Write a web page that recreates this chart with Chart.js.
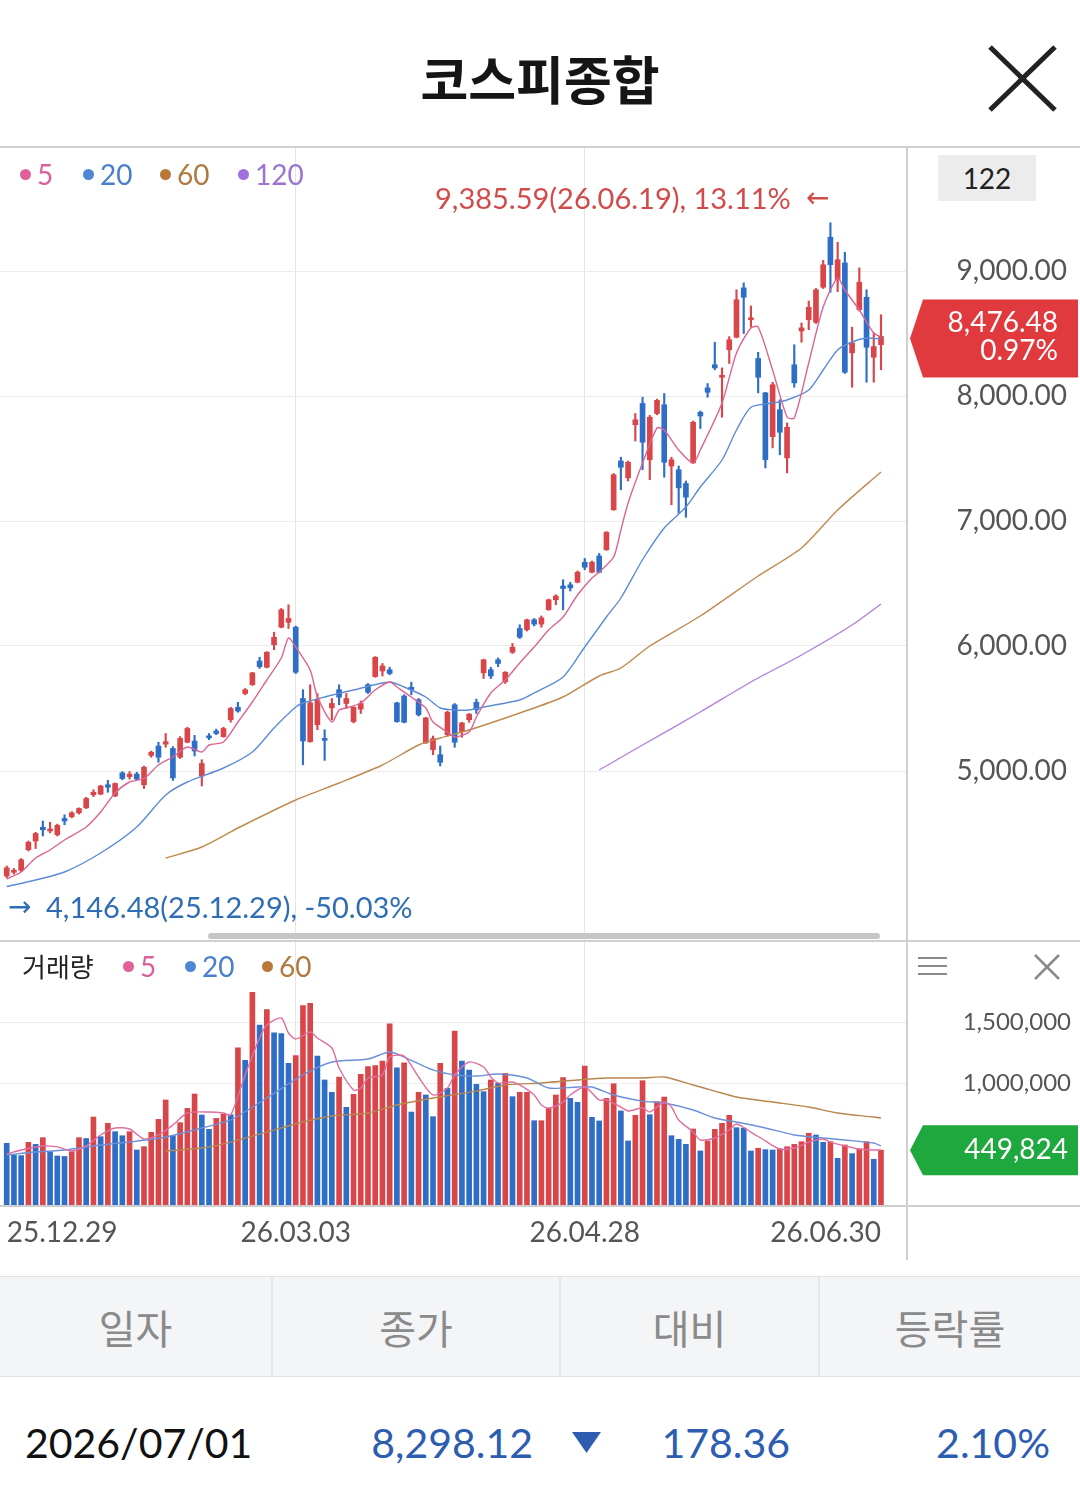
<!DOCTYPE html>
<html lang="ko">
<head>
<meta charset="utf-8">
<title>코스피종합</title>
<script src="https://cdn.jsdelivr.net/npm/chart.js@4.4.1/dist/chart.umd.min.js"></script>
<style>
  html, body { margin: 0; padding: 0; background: #fff; }
  body { width: 1080px; height: 1494px; position: relative; overflow: hidden; font-family: Lato, 'Noto Sans CJK KR', sans-serif; }
  .abs { position: absolute; }
  .hline { position: absolute; left: 0; width: 1080px; height: 2px; background: #cfcfcf; }
  .leg { position: absolute; font-size: 28px; line-height: 36px; display: flex; align-items: center; white-space: nowrap; }
  .leg i { display: inline-block; width: 11px; height: 11px; border-radius: 50%; margin-right: 6px; }
  .th { box-sizing: border-box; height: 100%; border-right: 2px solid #e4e5e8; display: flex; align-items: center; justify-content: center; font: 40px 'Noto Sans CJK KR'; color: #8a8a8a; }
  .td { position: absolute; top: 1416px; font-size: 41px; line-height: 54px; white-space: nowrap; color: #2c5db0; }
</style>
</head>
<body>

<!-- 제목 -->
<div class="abs" style="left:0;top:46px;width:1080px;text-align:center;font:700 52px/64px 'Noto Sans CJK KR';color:#151515;">코스피종합</div>
<svg class="abs" style="left:980px;top:38px" width="84" height="82">
  <line x1="10" y1="9" x2="75" y2="72" stroke="#222" stroke-width="5"/>
  <line x1="75" y1="9" x2="10" y2="72" stroke="#222" stroke-width="5"/>
</svg>

<!-- 차트 -->
<div class="abs" style="left:0;top:148px;width:1080px;height:793px;"><canvas id="priceChart"></canvas></div>
<div class="abs" style="left:0;top:942px;width:1080px;height:318px;"><canvas id="volChart"></canvas></div>

<div class="hline" style="top:146px"></div>
<div class="hline" style="top:940px"></div>
<div class="hline" style="top:1205px"></div>
<div class="abs" style="left:906px;top:148px;width:2px;height:1112px;background:#cfcfcf"></div>

<!-- 가격 범례 -->
<div class="leg" style="left:20px;top:156px;color:#d9609a"><i style="background:#e0609a"></i>5</div>
<div class="leg" style="left:83px;top:156px;color:#4a7fc9"><i style="background:#4f86d6"></i>20</div>
<div class="leg" style="left:160px;top:156px;color:#b07a3f"><i style="background:#b9783a"></i>60</div>
<div class="leg" style="left:238px;top:156px;color:#9a74d0"><i style="background:#a06fe0"></i>120</div>

<div class="abs" style="left:938px;top:155px;width:98px;height:46px;background:#ececec;font-size:28px;line-height:46px;text-align:center;color:#222">122</div>

<div class="abs" style="left:435px;top:180px;font-size:29px;line-height:36px;color:#d24b4b;white-space:nowrap">9,385.59(26.06.19), 13.11%</div>
<div class="abs" style="left:806px;top:180px;font:28px/36px 'DejaVu Sans';color:#d24b4b">←</div>
<div class="abs" style="left:8px;top:889px;font:28px/36px 'DejaVu Sans';color:#2f6db5">→</div>
<div class="abs" style="left:46px;top:889px;font-size:29px;line-height:36px;color:#2f6db5;white-space:nowrap">4,146.48(25.12.29), -50.03%</div>

<div class="abs" style="left:208px;top:933px;width:672px;height:6px;border-radius:3px;background:#c6c6c6"></div>

<!-- 거래량 범례 -->
<div class="leg" style="left:22px;top:948px;color:#222;font-family:'Noto Sans CJK KR';font-size:26px">거래량</div>
<div class="leg" style="left:123px;top:948px;color:#d9609a"><i style="background:#e0609a"></i>5</div>
<div class="leg" style="left:185px;top:948px;color:#4a7fc9"><i style="background:#4f86d6"></i>20</div>
<div class="leg" style="left:262px;top:948px;color:#b07a3f"><i style="background:#b9783a"></i>60</div>
<svg class="abs" style="left:916px;top:954px" width="34" height="24">
  <line x1="2" y1="4" x2="31" y2="4" stroke="#8a8a8a" stroke-width="2"/>
  <line x1="2" y1="12" x2="31" y2="12" stroke="#8a8a8a" stroke-width="2"/>
  <line x1="2" y1="20" x2="31" y2="20" stroke="#8a8a8a" stroke-width="2"/>
</svg>
<svg class="abs" style="left:1032px;top:952px" width="30" height="30">
  <line x1="3" y1="3" x2="27" y2="27" stroke="#8a8a8a" stroke-width="2.5"/>
  <line x1="27" y1="3" x2="3" y2="27" stroke="#8a8a8a" stroke-width="2.5"/>
</svg>

<!-- 표 -->
<div class="abs" style="left:0;top:1276px;width:1080px;height:101px;background:#f4f5f7;border-top:1px solid #e2e2e2;border-bottom:1px solid #e2e2e2;display:flex;box-sizing:border-box">
  <div class="th" style="width:273px">일자</div>
  <div class="th" style="width:288px">종가</div>
  <div class="th" style="width:259px">대비</div>
  <div class="th" style="width:260px;border-right:none">등락률</div>
</div>
<div class="td" style="left:25px;color:#111">2026/07/01</div>
<div class="td" style="right:547px">8,298.12</div>
<svg class="abs" style="left:572px;top:1432px" width="30" height="22"><polygon points="0,0 29,0 14.5,21" fill="#2c5db0"/></svg>
<div class="td" style="right:290px">178.36</div>
<div class="td" style="right:30px">2.10%</div>

<script>
// x축 날짜 라벨 (캔들 번호 기준)
const tickIdx = [0, 40, 80, 121];
const tickLabels = ['25.12.29', '26.03.03', '26.04.28', '26.06.30'];
const gridIdx = [40, 80];
const priceTicks = [5000, 6000, 7000, 8000, 9000];
const volTicks = [1000, 1500]; // 천주

// 일봉 122개
const opens = [4160,4190,4205,4370,4440,4550,4520,4490,4620,4635,
  4665,4705,4810,4815,4890,4800,4985,4955,4975,4890,
  5125,5200,5215,5180,5110,5230,5240,4960,5280,5320,
  5275,5410,5510,5620,5690,5880,5830,6010,6150,6190,
  6150,5580,5235,5370,5260,5505,5650,5540,5395,5495,
  5690,5755,5800,5810,5545,5600,5670,5570,5225,5170,
  5130,5290,5530,5315,5410,5550,5785,5810,5890,5715,
  5950,6140,6130,6210,6175,6290,6370,6480,6490,6510,
  6670,6590,6720,6770,7090,7480,7345,7770,7940,7490,
  7860,7930,7440,7410,7300,7465,7870,8065,8250,8150,
  8370,8470,8865,8610,8300,8025,7675,7890,7505,8250,
  8520,8610,8590,8870,9270,8930,9065,8345,8690,8790,
  8310,8410];
const highs = [4240,4220,4300,4440,4510,4600,4590,4575,4650,4675,
  4705,4790,4850,4885,4925,4905,4995,4995,4990,5040,
  5160,5230,5300,5195,5275,5350,5285,5090,5300,5335,
  5350,5510,5550,5660,5790,5910,5955,6110,6300,6330,
  6160,5650,5690,5620,5330,5580,5690,5620,5515,5560,
  5700,5915,5860,5830,5550,5610,5710,5580,5430,5280,
  5200,5480,5540,5390,5460,5575,5895,5830,5905,5795,
  6020,6170,6215,6220,6240,6375,6410,6530,6510,6600,
  6700,6680,6740,6915,7380,7510,7480,7860,7990,7845,
  7975,8020,7510,7440,7320,7800,7880,8100,8430,8225,
  8475,8850,8905,8720,8350,8030,8110,7970,7785,8410,
  8585,8760,8860,9085,9385.59,9230,9150,8550,9025,8850,
  8505,8650];
const lows = [4146.48,4175,4195,4360,4380,4480,4505,4480,4570,4625,
  4655,4700,4795,4810,4830,4795,4930,4935,4930,4860,
  5110,5070,5190,4925,5100,5225,5120,4880,5250,5290,
  5270,5390,5470,5610,5685,5820,5825,5970,6145,6140,
  5780,5050,5230,5330,5085,5410,5530,5500,5385,5460,
  5620,5750,5760,5770,5390,5385,5610,5440,5220,5130,
  5040,5280,5190,5270,5390,5460,5740,5740,5835,5700,
  5940,6060,6120,6160,6150,6285,6330,6290,6440,6505,
  6610,6585,6585,6765,7085,7250,7320,7640,7410,7330,
  7850,7350,7130,7060,7030,7460,7740,7990,8210,7830,
  8260,8465,8500,8550,8025,7425,7585,7530,7385,8070,
  8430,8530,8580,8860,8830,8835,8180,8070,8680,8110,
  8110,8210];
const closes = [4225,4205,4290,4430,4500,4530,4535,4565,4600,4665,
  4700,4780,4830,4880,4870,4900,4940,4975,4935,5030,
  5150,5110,5235,4945,5260,5340,5160,5060,5265,5300,
  5340,5500,5480,5650,5785,5835,5950,6070,6290,6220,
  5790,5240,5545,5570,5245,5540,5590,5580,5510,5540,
  5630,5910,5840,5780,5395,5390,5650,5450,5425,5260,
  5070,5470,5230,5385,5455,5490,5890,5760,5860,5790,
  5990,6070,6210,6175,6225,6370,6400,6460,6465,6590,
  6630,6670,6590,6910,7370,7430,7470,7810,7630,7830,
  7965,7470,7490,7265,7190,7790,7840,8030,8225,8165,
  8450,8770,8790,8625,8150,7490,8090,7710,7750,8105,
  8545,8710,8850,9050,9050,9090,8190,8425,8910,8390,
  8395,8476.48];
const lastChange = '0.97%';

// 거래량 (천주)
const volumes = [506,410,405,514,497,552,437,402,398,437,
  552,545,721,560,670,601,568,601,451,478,
  596,702,861,568,675,792,910,738,620,710,
  746,740,1289,1186,1743,1475,1601,1412,1406,1161,
  1224,1634,1653,1221,1025,924,1049,801,907,1071,
  1134,1142,1180,1486,1125,1166,762,924,902,724,
  1161,956,1426,1180,1107,989,929,1025,997,1079,
  888,924,924,691,691,792,902,1044,874,842,
  1139,719,689,874,994,771,525,735,1019,740,
  847,885,568,538,497,623,443,525,620,670,
  735,634,630,443,465,454,451,460,478,497,
  519,588,574,514,519,383,492,421,459,519,
  375,449.824];

// 이동평균선 (화면에서 읽은 값) [캔들번호, 값]
const priceMa5 = [[0,4136],[2,4192],[4,4304],[6,4368],[8,4448],[11,4552],[13,4672],[15,4824],[17,4912],[19,4940],
  [21,5048],[23,5112],[25,5192],[27,5152],[28,5208],[30,5232],[32,5392],[34,5552],[36,5728],[38,5904],
  [39,6064],[40,5992],[42,5808],[43,5592],[45,5392],[46,5488],[47,5504],[49,5544],[51,5648],[53,5712],
  [54,5672],[56,5592],[58,5504],[59,5392],[61,5312],[62,5272],[64,5312],[65,5432],[67,5624],[69,5728],
  [71,5864],[73,5992],[75,6128],[77,6232],[79,6408],[81,6544],[82,6592],[84,6712],[85,6928],[86,7144],
  [88,7464],[90,7744],[91,7728],[93,7568],[95,7464],[96,7568],[99,7944],[101,8344],[103,8544],[104,8552],
  [106,8208],[108,7832],[109,7824],[111,8264],[113,8712],[115,8944],[116,8848],[118,8688],[120,8504],[121,8472]];
const priceMa20 = [[0,4075],[4,4128],[8,4192],[13,4344],[18,4552],[22,4808],[25,4912],[30,5024],[34,5152],[37,5344],
  [40,5512],[41,5544],[44,5592],[48,5648],[53,5712],[55,5672],[58,5592],[60,5504],[62,5488],[64,5488],
  [66,5512],[71,5568],[73,5624],[77,5752],[80,5992],[83,6232],[85,6384],[88,6690],[91,6944],[94,7112],
  [96,7272],[99,7488],[101,7728],[103,7910],[106,7944],[108,7968],[111,8048],[113,8208],[115,8368],[117,8432],
  [119,8464],[121,8456]];
const priceMa60 = [[22,4304],[27,4392],[32,4544],[40,4768],[46,4904],[52,5048],[57,5208],[60,5264],[64,5328],[71,5464],
  [77,5592],[82,5760],[85,5824],[89,6000],[96,6240],[104,6560],[110,6784],[115,7088],[121,7392]];
const priceMa120 = [[82,5008],[88,5208],[96,5472],[103,5712],[110,5928],[117,6168],[121,6336]];

const volMa5 = [[0,418],[2,451],[5,484],[7,476],[9,443],[11,484],[13,574],[15,631],[17,623],[19,541],
  [21,574],[23,656],[25,754],[28,762],[30,754],[31,738],[33,1066],[35,1369],[36,1475],[38,1533],
  [39,1410],[40,1361],[42,1418],[43,1369],[45,1287],[46,1123],[48,943],[49,959],[50,1041],[52,1066],
  [53,1213],[55,1221],[57,1049],[59,902],[61,959],[62,1066],[64,1172],[66,1131],[67,1049],[68,1000],
  [70,1008],[71,984],[73,902],[74,820],[75,795],[77,844],[78,902],[80,967],[82,861],[83,861],
  [85,803],[86,771],[88,795],[89,762],[91,844],[92,803],[93,697],[95,598],[96,533],[98,549],
  [100,615],[101,664],[103,598],[105,525],[107,459],[109,467],[111,516],[113,541],[114,516],[116,484],
  [118,459],[120,451],[121,451]];
const volMa20 = [[0,410],[4,434],[8,451],[13,492],[17,516],[22,557],[27,631],[31,697],[36,877],[41,1066],
  [45,1172],[50,1197],[53,1254],[55,1213],[59,1107],[62,1066],[65,1057],[68,1074],[72,1041],[75,959],
  [79,967],[81,967],[84,902],[88,852],[91,836],[95,779],[98,713],[101,680],[105,631],[109,574],
  [113,549],[116,533],[120,508],[121,484]];
const volMa60 = [[22,443],[27,467],[31,516],[36,598],[41,680],[45,730],[50,754],[54,820],[59,877],[65,934],
  [69,984],[74,1000],[79,1025],[83,1041],[88,1041],[91,1049],[95,984],[98,934],[101,885],[106,844],
  [111,803],[115,754],[120,721],[121,713]];

const RED = '#d8464a', BLUE = '#2e6ec6';
const xMin = -0.93, xMax = 124.6;

Chart.defaults.font.family = 'Lato';
Chart.defaults.animation = false;

const fmt2 = v => v.toLocaleString('en-US', { minimumFractionDigits: 2, maximumFractionDigits: 2 });
const pts = arr => arr.map(p => ({ x: p[0], y: p[1] }));
const gridColorX = ctx => (ctx.tick && gridIdx.includes(ctx.tick.value)) ? '#e4e4e4' : 'rgba(0,0,0,0)';
const maLine = (arr, color) => ({
  type: 'line', data: pts(arr), borderColor: color, borderWidth: 1.4,
  pointRadius: 0, tension: 0.25, order: 0
});
// 오른쪽 축: 907px에서 시작, 라벨 오른쪽 끝은 축의 오른쪽 끝
const fitRightAxis = w => s => { s.width = w; s.paddingTop = 0; s.paddingBottom = 0; };

function drawTag(ctx, y, h, color, lines) {
  ctx.save();
  ctx.fillStyle = color;
  ctx.beginPath();
  ctx.moveTo(910, y);
  ctx.lineTo(923, y - h / 2);
  ctx.lineTo(1078, y - h / 2);
  ctx.lineTo(1078, y + h / 2);
  ctx.lineTo(923, y + h / 2);
  ctx.closePath();
  ctx.fill();
  ctx.fillStyle = '#fff';
  ctx.font = '28px Lato';
  ctx.textAlign = 'right';
  ctx.textBaseline = 'middle';
  lines.forEach(l => ctx.fillText(l.text, l.x, y + l.dy));
  ctx.restore();
}

// 가격차트
const candleColor = closes.map((c, i) => c >= opens[i] ? RED : BLUE);
const last = closes.length - 1;

const priceTag = {
  id: 'priceTag',
  afterDraw(chart) {
    const y = chart.scales.y.getPixelForValue(closes[last]);
    drawTag(chart.ctx, y + 2, 78, '#e03a3e', [
      { text: fmt2(closes[last]), x: 1058, dy: -15 },
      { text: lastChange, x: 1058, dy: 13 }
    ]);
  }
};

new Chart(document.getElementById('priceChart'), {
  type: 'bar',
  data: {
    datasets: [
      maLine(priceMa5, '#dc6493'),
      maLine(priceMa20, '#5c8bd6'),
      maLine(priceMa60, '#c08a4e'),
      maLine(priceMa120, '#b07fe0'),
      {
        data: highs.map((h, i) => ({ x: i, y: [lows[i], h] })),
        backgroundColor: candleColor, barThickness: 1.5, grouped: false, order: 2
      },
      {
        data: opens.map((o, i) => ({ x: i, y: [o, closes[i]] })),
        backgroundColor: candleColor, barThickness: 5, minBarLength: 2, grouped: false, order: 1
      }
    ]
  },
  options: {
    responsive: true,
    maintainAspectRatio: false,
    events: [],
    layout: { padding: { left: 0, top: 0, bottom: 0, right: 13 } },
    plugins: { legend: { display: false }, tooltip: { enabled: false } },
    scales: {
      x: {
        type: 'linear', min: xMin, max: xMax, offset: false,
        afterBuildTicks: s => { s.ticks = tickIdx.map(v => ({ value: v })); },
        afterFit: s => { s.height = 0; s.paddingLeft = 0; s.paddingRight = 0; },
        ticks: { display: false },
        grid: { color: gridColorX, drawTicks: false, offset: false },
        border: { display: false }
      },
      y: {
        position: 'right', min: 3640, max: 9984,
        afterBuildTicks: s => { s.ticks = priceTicks.map(v => ({ value: v })); },
        afterFit: fitRightAxis(160),
        ticks: { font: { size: 28 }, color: '#555', crossAlign: 'far', padding: 10, callback: v => fmt2(v) },
        grid: { color: '#ececec', drawTicks: false },
        border: { display: false }
      }
    }
  },
  plugins: [priceTag]
});

// 거래량 차트
const volColor = volumes.map((v, i) => (i > 0 && v >= volumes[i - 1]) ? RED : BLUE);

const volTag = {
  id: 'volTag',
  afterDraw(chart) {
    const y = chart.scales.y.getPixelForValue(volumes[last]);
    drawTag(chart.ctx, y, 50, '#1ea83e', [
      { text: Math.round(volumes[last] * 1000).toLocaleString('en-US'), x: 1068, dy: 0 }
    ]);
  }
};

new Chart(document.getElementById('volChart'), {
  type: 'bar',
  data: {
    datasets: [
      maLine(volMa5, '#e06ea0'),
      maLine(volMa20, '#6b90d8'),
      maLine(volMa60, '#b8864f'),
      {
        data: volumes.map((v, i) => ({ x: i, y: v })),
        backgroundColor: volColor, barThickness: 5, grouped: false, order: 1
      }
    ]
  },
  options: {
    responsive: true,
    maintainAspectRatio: false,
    events: [],
    layout: { padding: { left: 0, top: 0, bottom: 0, right: 9 } },
    plugins: { legend: { display: false }, tooltip: { enabled: false } },
    scales: {
      x: {
        type: 'linear', min: xMin, max: xMax, offset: false,
        afterBuildTicks: s => { s.ticks = tickIdx.map(v => ({ value: v })); },
        afterFit: s => { s.height = 55; s.paddingLeft = 0; s.paddingRight = 0; },
        ticks: {
          font: { size: 28 }, color: '#555', align: 'inner', padding: 11,
          maxRotation: 0, autoSkip: false,
          callback: v => tickLabels[tickIdx.indexOf(v)]
        },
        grid: { color: gridColorX, drawTicks: false, offset: false },
        border: { display: false }
      },
      y: {
        position: 'right', min: 0, max: 2156,
        afterBuildTicks: s => { s.ticks = volTicks.map(v => ({ value: v })); },
        afterFit: fitRightAxis(164),
        ticks: { font: { size: 24 }, color: '#555', crossAlign: 'far', padding: 10, callback: v => (v * 1000).toLocaleString('en-US') },
        grid: { color: '#ececec', drawTicks: false },
        border: { display: false }
      }
    }
  },
  plugins: [volTag]
});
</script>
</body>
</html>
